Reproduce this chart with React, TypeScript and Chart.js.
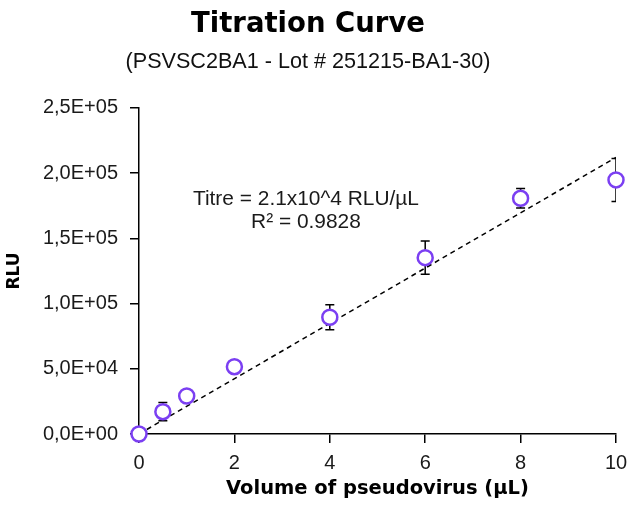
import React, { useEffect, useRef } from "react";
import { Chart, registerables } from "chart.js";

Chart.register(...registerables);

const volumes = [0, 0.5, 1, 2, 4, 6, 8, 10];
const rlu = [0, 17100, 29100, 51600, 89500, 135200, 180700, 194800];
const rluError = [0, 7000, 1500, 1500, 9500, 12700, 7500, 16500];
const trendX = [0, 10];
const trendY = [0, 212000];
const xTicks = [0, 2, 4, 6, 8, 10];
const yTicks = [0, 50000, 100000, 150000, 200000, 250000];
const titleText = "Titration Curve";
const subtitleText = "(PSVSC2BA1 - Lot # 251215-BA1-30)";
const xTitle = "Volume of pseudovirus (µL)";
const yTitle = "RLU";
const annotationLines = ["Titre = 2.1x10^4 RLU/µL", "R² = 0.9828"];
const annotationAnchor = { x: 3.5, y: 180000 };

const BOLD = "'DejaVu Sans', sans-serif";
const REG = "'Liberation Sans', Arial, sans-serif";
const PURPLE = "#7b3ff2";

function fmtSci(v: number): string {
  if (v === 0) return "0,0E+00";
  const exp = Math.floor(Math.log10(Math.abs(v)));
  const mant = v / Math.pow(10, exp);
  const sign = exp >= 0 ? "+" : "-";
  return mant.toFixed(1).replace(".", ",") + "E" + sign + String(Math.abs(exp)).padStart(2, "0");
}

const errorBarPlugin = {
  id: "errorBars",
  beforeDatasetsDraw(chart: any) {
    const { ctx, scales, chartArea } = chart;
    const xs = scales.x;
    const ys = scales.y;
    ctx.save();
    ctx.beginPath();
    ctx.rect(chartArea.left - 20, chartArea.top - 20, chartArea.right - chartArea.left + 20, chartArea.bottom - chartArea.top + 40);
    ctx.clip();
    ctx.strokeStyle = "#000";
    ctx.lineWidth = 1.5;
    for (let i = 0; i < volumes.length; i++) {
      const e = rluError[i];
      if (!e) continue;
      const px = xs.getPixelForValue(volumes[i]);
      const top = ys.getPixelForValue(rlu[i] + e);
      const bot = ys.getPixelForValue(Math.max(0, rlu[i] - e));
      ctx.beginPath();
      ctx.moveTo(px, top);
      ctx.lineTo(px, bot);
      ctx.moveTo(px - 4.5, top);
      ctx.lineTo(px + 4.5, top);
      if (rlu[i] - e > 0) {
        ctx.moveTo(px - 4.5, bot);
        ctx.lineTo(px + 4.5, bot);
      }
      ctx.stroke();
    }
    ctx.restore();
  },
  afterDraw(chart: any) {
    const { ctx, scales } = chart;
    const cx = scales.x.getPixelForValue(annotationAnchor.x);
    const cy = scales.y.getPixelForValue(annotationAnchor.y);
    ctx.save();
    ctx.fillStyle = "#1a1a1a";
    ctx.font = `20.9px ${REG}`;
    ctx.textAlign = "center";
    ctx.textBaseline = "middle";
    annotationLines.forEach((t, i) => ctx.fillText(t, cx, cy + i * 23.5));
    ctx.restore();
  },
};

export default function App() {
  const ref = useRef<HTMLCanvasElement | null>(null);
  useEffect(() => {
    document.body.style.margin = "0";
    const canvas = ref.current;
    if (!canvas) return;
    const chart = new Chart(canvas, {
      type: "scatter",
      data: {
        datasets: [
          {
            type: "line",
            data: trendX.map((x, i) => ({ x, y: trendY[i] })),
            borderColor: "#000",
            borderWidth: 1.5,
            borderDash: [5, 4],
            pointRadius: 0,
            fill: false,
            order: 2,
          } as any,
          {
            data: volumes.map((x, i) => ({ x, y: rlu[i] })),
            pointRadius: 7.5,
            pointBorderWidth: 2.5,
            pointBorderColor: PURPLE,
            pointBackgroundColor: "#fff",
            borderColor: PURPLE,
            backgroundColor: "#fff",
            clip: false,
            order: 1,
          } as any,
        ],
      },
      options: {
        animation: false,
        responsive: false,
        maintainAspectRatio: false,
        layout: { padding: { left: 0, right: 13, top: 0, bottom: 0 } },
        plugins: {
          legend: { display: false },
          tooltip: { enabled: false },
          title: {
            display: true,
            text: titleText,
            color: "#000",
            font: { family: BOLD, size: 27.5, weight: "bold" },
            padding: { top: 8, bottom: 0 },
          },
          subtitle: {
            display: true,
            text: subtitleText,
            color: "#111",
            font: { family: REG, size: 21.6 },
            padding: { top: 8, bottom: 33 },
          },
        },
        scales: {
          x: {
            type: "linear",
            min: 0,
            max: 10,
            afterBuildTicks: (s: any) => { s.ticks = xTicks.map((v) => ({ value: v })); },
            afterFit: (s: any) => { s.height = 71; s.paddingLeft = 0; s.paddingRight = 0; },
            border: { display: true, color: "#000", width: 1.5 },
            grid: { drawOnChartArea: false, drawTicks: true, tickLength: 9, color: "#000", lineWidth: 1.5 },
            ticks: { color: "#1a1a1a", font: { family: REG, size: 20 }, padding: 8, maxRotation: 0 },
            title: {
              display: true,
              text: xTitle,
              color: "#000",
              font: { family: BOLD, size: 19.5, weight: "bold" },
              padding: { top: 0, bottom: 4 },
            },
          },
          y: {
            type: "linear",
            min: 0,
            max: 250000,
            afterBuildTicks: (s: any) => { s.ticks = yTicks.map((v) => ({ value: v })); },
            afterFit: (s: any) => { s.width = 139; },
            border: { display: true, color: "#000", width: 1.5 },
            grid: { drawOnChartArea: false, drawTicks: true, tickLength: 9, color: "#000", lineWidth: 1.5 },
            ticks: { color: "#1a1a1a", font: { family: REG, size: 20 }, padding: 12, callback: (v: any) => fmtSci(Number(v)) },
            title: {
              display: true,
              text: yTitle,
              color: "#000",
              font: { family: BOLD, size: 17, weight: "bold" },
              padding: { top: 4, bottom: 0 },
            },
          },
        },
      },
      plugins: [errorBarPlugin],
    });
    return () => chart.destroy();
  }, []);
  return (
    <div style={{ width: 629, height: 505, position: "relative" }}>
      <canvas ref={ref} width={629} height={505} style={{ width: 629, height: 505, display: "block" }} />
    </div>
  );
}
